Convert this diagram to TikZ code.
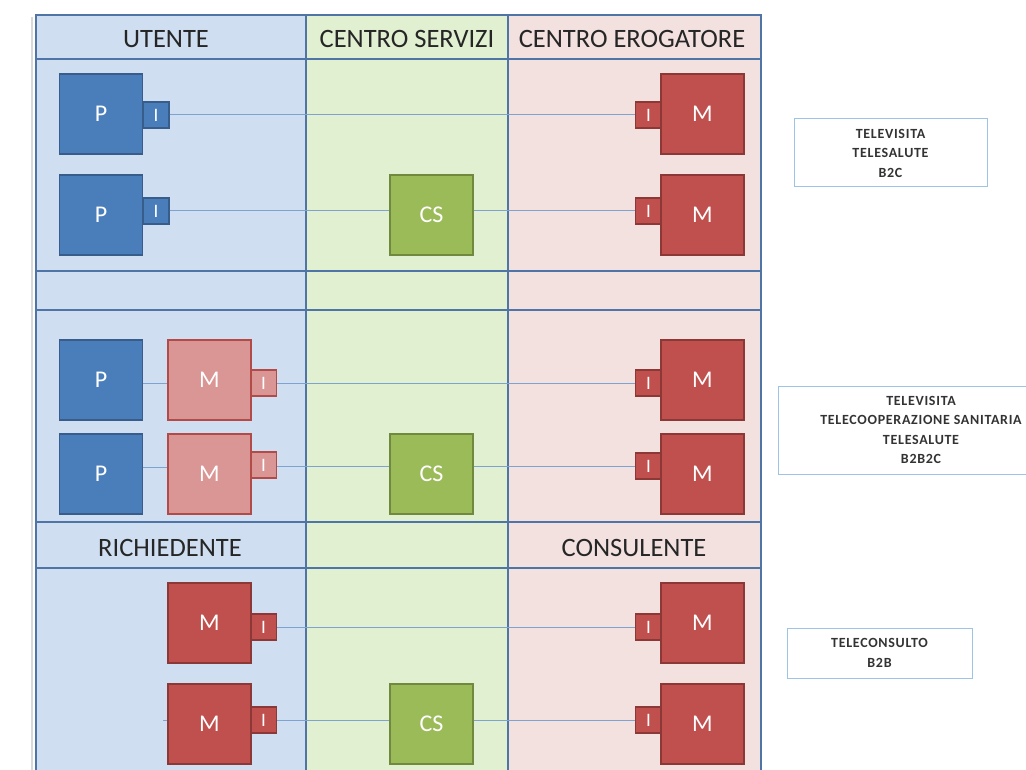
\documentclass[tikz,border=0pt]{standalone}
\usepackage{fontspec}
\setmainfont{Carlito}
\newfontfamily\lblfont[LetterSpace=5]{Carlito}
\definecolor{bgblue}{HTML}{CFDFF1}
\definecolor{bggreen}{HTML}{E0F0D0}
\definecolor{bgpink}{HTML}{F3E1E0}
\definecolor{gridline}{HTML}{4F75A6}
\definecolor{pfill}{HTML}{4A7EBB}
\definecolor{pline}{HTML}{385D8A}
\definecolor{mfill}{HTML}{C0504D}
\definecolor{mline}{HTML}{8C3836}
\definecolor{lmfill}{HTML}{D99694}
\definecolor{lmline}{HTML}{B24A47}
\definecolor{csfill}{HTML}{9BBB59}
\definecolor{csline}{HTML}{71893F}
\definecolor{link}{HTML}{7FA3D0}
\definecolor{lblline}{HTML}{9DC3E6}
\definecolor{headtext}{HTML}{262626}
\begin{document}
\begin{tikzpicture}[x=1pt,y=-1pt,
  box/.style={draw, line width=1.2pt, minimum width=83pt, minimum height=80pt,
    inner sep=0pt, text=white, font=\fontsize{24}{28}\selectfont},
  pbox/.style={box, fill=pfill, draw=pline},
  mbox/.style={box, fill=mfill, draw=mline},
  lmbox/.style={box, fill=lmfill, draw=lmline},
  csbox/.style={box, fill=csfill, draw=csline},
  ibox/.style={draw, line width=1.2pt, minimum width=26pt, minimum height=26pt,
    inner sep=0pt, text=white, font=\fontsize{19}{22}\selectfont},
  pi/.style={ibox, fill=pfill, draw=pline},
  mi/.style={ibox, fill=mfill, draw=mline},
  lmi/.style={ibox, fill=lmfill, draw=lmline},
  head/.style={text=headtext, font=\fontsize{26.5}{30}\selectfont},
  grid/.style={draw=gridline, line width=2.4pt},
  wire/.style={draw=link, line width=1pt},
  lbl/.style={draw=lblline, line width=1pt, align=center, text=black!80,
    font=\lblfont\fontsize{14}{19.5}\selectfont\bfseries, inner sep=0pt}
]
\useasboundingbox (0,0) rectangle (1026,770);

% columns
\fill[bgblue] (36,15) rectangle (306,775);
\fill[bggreen] (306,15) rectangle (508,775);
\fill[bgpink] (508,15) rectangle (761,775);
\draw[black!15, line width=2pt] (32,17) -- (32,775);

\draw[grid] (36,775) -- (36,15) -- (761,15) -- (761,775);
\draw[grid] (306,15) -- (306,775);
\draw[grid] (508,15) -- (508,775);
\foreach \y in {59,271,310,522,568}
  \draw[grid] (36,\y) -- (761,\y);

% headers
\node[head] (utente) at (166,39) {UTENTE};
\node[head] (servizi) at (407,39) {CENTRO SERVIZI};
\node[head] (erogatore) at (632,39) {CENTRO EROGATORE};
\node[head] (richiedente) at (170,548) {RICHIEDENTE};
\node[head] (consulente) at (634,548) {CONSULENTE};

% B2C
\node[pi] (li1) at (156,115) {I};
\node[pbox] (p1) at (101,114) {P};
\node[mi] (ri1) at (648.5,115) {I};
\node[mbox] (m1) at (702.5,114) {M};
\node[pi] (li2) at (156,211) {I};
\node[pbox] (p2) at (101,215) {P};
\node[csbox] (cs2) at (431.5,215) {CS};
\node[mi] (ri2) at (648.5,211) {I};
\node[mbox] (m2) at (702.5,215) {M};
\draw[wire] (li1) -- (ri1);
\draw[wire] (li2) -- (cs2.west |- li2);
\draw[wire] (cs2.east |- ri2) -- (ri2);

% B2B2C
\node[pbox] (p3) at (101,380) {P};
\node[lmi] (li3) at (263.5,383) {I};
\node[lmbox] (lm3) at (209.5,380) {M};
\node[mi] (ri3) at (648.5,383) {I};
\node[mbox] (m3) at (702.5,380) {M};
\node[pbox] (p4) at (101,474) {P};
\node[lmi] (li4) at (263.5,465) {I};
\node[lmbox] (lm4) at (209.5,474) {M};
\node[csbox] (cs4) at (431.5,474) {CS};
\node[mi] (ri4) at (648.5,466) {I};
\node[mbox] (m4) at (702.5,474) {M};
\draw[wire] (p3.east |- li3) -- (lm3.west |- li3);
\draw[wire] (li3) -- (ri3);
\draw[wire] (p4.east |- 0,467) -- (lm4.west |- 0,467);
\draw[wire] (li4.east |- ri4) -- (cs4.west |- ri4);
\draw[wire] (cs4.east |- ri4) -- (ri4);

% B2B
\node[mi] (li5) at (263.5,627) {I};
\node[mbox] (lm5) at (209.5,623) {M};
\node[mi] (ri5) at (648.5,627) {I};
\node[mbox] (m5) at (702.5,623) {M};
\coordinate (s6) at (163,720);
\node[mi] (li6) at (263.5,720) {I};
\node[mbox] (lm6) at (209.5,724) {M};
\node[csbox] (cs6) at (431.5,724) {CS};
\node[mi] (ri6) at (648.5,720) {I};
\node[mbox] (m6) at (702.5,724) {M};
\draw[wire] (li5) -- (ri5);
\draw[wire] (s6) -- (lm6.west |- s6);
\draw[wire] (li6) -- (cs6.west |- li6);
\draw[wire] (cs6.east |- ri6) -- (ri6);

% labels
\node[lbl, minimum width=193pt, minimum height=68pt] (tb2c) at (890.5,153)
  {TELEVISITA\\TELESALUTE\\B2C};
\node[lbl, minimum width=286pt, minimum height=88pt] (tb2b2c) at (921,430)
  {TELEVISITA\\TELECOOPERAZIONE SANITARIA\\TELESALUTE\\B2B2C};
\node[lbl, minimum width=185pt, minimum height=50pt] (tb2b) at (879.5,653)
  {TELECONSULTO\\B2B};
\end{tikzpicture}
\end{document}
